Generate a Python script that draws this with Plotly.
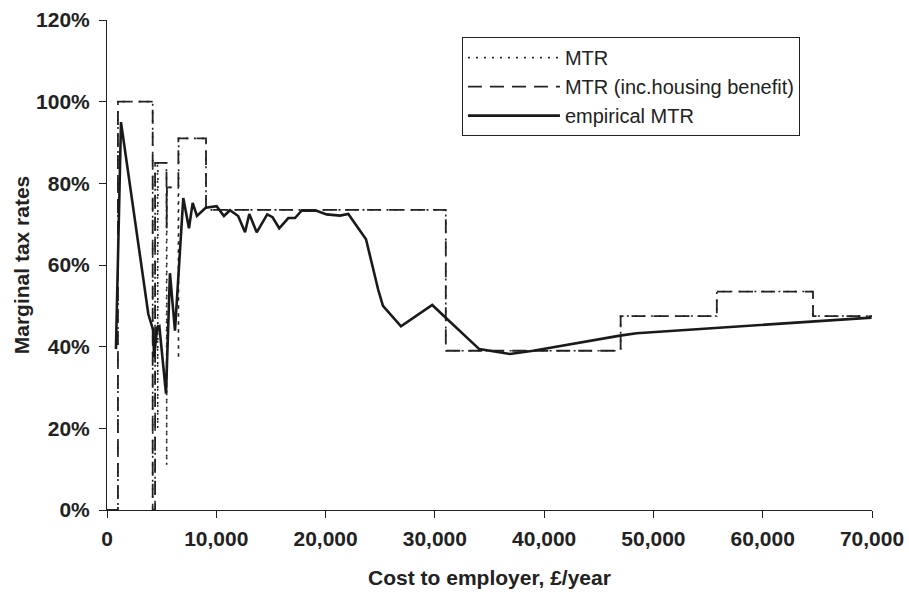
import plotly.graph_objects as go

# ---- data (percent) ----
mtr_x = [0, 1000, 1000, 4180, 4180, 4400, 4400, 4620, 4640, 4660, 5440, 5460, 5480,
         6520, 6540, 6560, 9060, 9060, 31000, 31000, 47000, 47000, 55800, 55800,
         64600, 64600, 70000]
mtr_y = [0, 0, 100, 100, 0, 0, 85, 85, 20, 85, 85, 11, 79,
         79, 37, 91, 91, 73.5, 73.5, 39, 39, 47.5, 47.5, 53.5,
         53.5, 47.5, 47.5]

hb_x = [0, 1000, 1000, 4180, 4180, 4400, 4400, 5440, 5460, 5480, 6530, 6530,
        9060, 9060, 31000, 31000, 47000, 47000, 55800, 55800, 64600, 64600, 70000]
hb_y = [0, 0, 100, 100, 0, 0, 85, 85, 69, 79, 79, 91,
        91, 73.5, 73.5, 39, 39, 47.5, 47.5, 53.5, 53.5, 47.5, 47.5]

emp_x = [820, 1280, 3780, 4240, 4300, 4600, 4790, 5400, 5760, 6220, 6980, 7500,
         7840, 8230, 9030, 10030, 10700, 11250, 12000, 12630, 13020, 13700, 14140,
         14660, 15150, 15760, 16590, 17200, 17800, 19180, 20090, 21320, 22080,
         23700, 24810, 25250, 26900, 29760, 31070, 34060, 36870, 39000, 46940,
         48460, 69960]
emp_y = [39.4, 95, 48, 43.9, 37.4, 44.7, 45, 28.5, 58, 43.9, 76.4, 69,
         75.2, 72, 74, 74.4, 72, 73.4, 72, 68, 72.5, 68, 70,
         72.4, 71.7, 69, 71.5, 71.5, 73.3, 73.3, 72.4, 72.1, 72.5,
         66.3, 54, 50, 45, 50.2, 46.9, 39.4, 38.2, 39, 42.7,
         43.3, 47.1]

x_ticks = [0, 10000, 20000, 30000, 40000, 50000, 60000, 70000]
x_labels = ["0", "10,000", "20,000", "30,000", "40,000", "50,000", "60,000", "70,000"]
y_ticks = [0, 20, 40, 60, 80, 100, 120]
y_labels = ["0%", "20%", "40%", "60%", "80%", "100%", "120%"]

fig = go.Figure()
fig.add_trace(go.Scatter(x=mtr_x, y=mtr_y, mode="lines", name="MTR",
                         line=dict(color="#222222", width=1.6, dash="2px,6px")))
fig.add_trace(go.Scatter(x=hb_x, y=hb_y, mode="lines", name="MTR (inc.housing benefit)",
                         line=dict(color="#222222", width=1.8, dash="14px,8px")))
fig.add_trace(go.Scatter(x=emp_x, y=emp_y, mode="lines", name="empirical MTR",
                         line=dict(color="#1a1a1a", width=2.6)))

fam = "Liberation Sans, Arial, sans-serif"
tickfont = dict(family=fam, size=21, color="#222222", weight="bold")
titlefont = dict(family=fam, size=21, color="#222222", weight="bold")

fig.update_layout(
    width=909, height=598,
    margin=dict(l=107, r=37, t=20, b=88),
    paper_bgcolor="white", plot_bgcolor="white",
    showlegend=True,
    legend=dict(x=0.464, y=0.965, xanchor="left", yanchor="top",
                bgcolor="white", bordercolor="#222222", borderwidth=1,
                itemwidth=92, tracegroupgap=0,
                font=dict(family=fam, size=20, color="#222222")),
    xaxis=dict(range=[0, 70000], tickvals=x_ticks, ticktext=x_labels, automargin=False,
               showgrid=False, zeroline=False, showline=True, linecolor="#222222", linewidth=1,
               ticks="outside", ticklen=7, tickcolor="#222222", ticklabelstandoff=3,
               tickfont=tickfont,
               title=dict(text="Cost to employer, £/year", font=titlefont, standoff=21)),
    yaxis=dict(range=[0, 120], tickvals=y_ticks, ticktext=y_labels, automargin=False,
               showgrid=False, zeroline=False, showline=True, linecolor="#222222", linewidth=1,
               ticks="outside", ticklen=7, tickcolor="#222222", ticklabelstandoff=5,
               tickfont=tickfont,
               title=dict(text="Marginal tax rates", font=titlefont, standoff=0)),
)

fig.write_html("out.html", config={"displayModeBar": False},
               post_script="document.body.style.margin='0';")
